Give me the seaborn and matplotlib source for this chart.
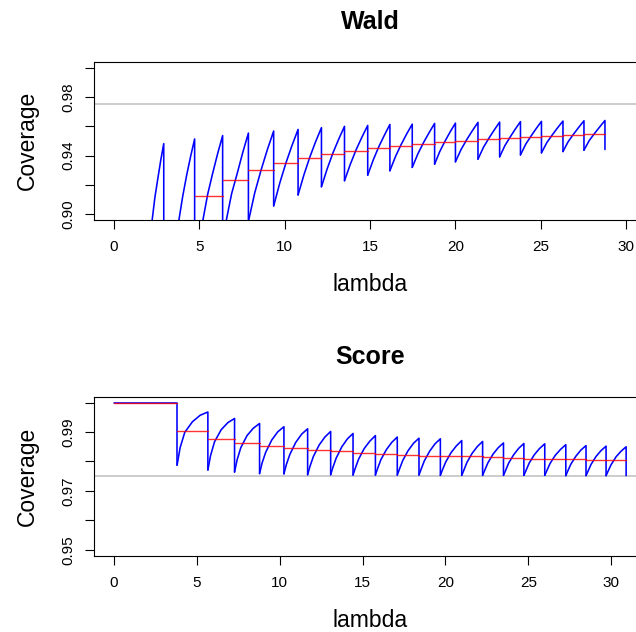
import matplotlib
matplotlib.use("Agg")
import matplotlib.pyplot as plt
import pandas as pd
import seaborn as sns

# ---------------- data ----------------
# Wald panel: each tooth starts at wald_start_x (value wald_low), rises through
# wald_mid (halfway) to wald_high at wald_end_x, then drops to wald_drop.
wald_start_x = [2.22, 3.785, 5.19, 6.56, 7.87, 9.35, 10.78, 12.15, 13.50, 14.86,
                16.16, 17.47, 18.78, 20.00, 21.32, 22.59, 23.81, 25.04, 26.30, 27.53]
wald_end_x = [2.91, 4.72, 6.36, 7.87, 9.35, 10.78, 12.15, 13.50, 14.86, 16.16,
              17.47, 18.78, 20.00, 21.32, 22.59, 23.81, 25.04, 26.30, 27.53, 28.76]
wald_low = [0.895, 0.895, 0.895, 0.895, 0.895, 0.9056, 0.9131, 0.9187, 0.9228, 0.9266,
            0.9296, 0.9319, 0.9341, 0.9357, 0.9375, 0.9391, 0.9404, 0.9418, 0.9427, 0.9436]
wald_q1 = [0.9115, 0.9120, 0.9135, 0.9140, 0.9145, 0.9212, 0.9268, 0.9310, 0.9340, 0.9370,
           0.9393, 0.9411, 0.9428, 0.9441, 0.9455, 0.9467, 0.9477, 0.9488, 0.9495, 0.9502]
wald_mid = [0.9244, 0.9266, 0.9278, 0.9278, 0.9300, 0.9348, 0.9388, 0.9418, 0.9439, 0.9460,
            0.9474, 0.9487, 0.9498, 0.9508, 0.9517, 0.9525, 0.9532, 0.9540, 0.9545, 0.9550]
wald_q3 = [0.9370, 0.9395, 0.9413, 0.9422, 0.9440, 0.9468, 0.9494, 0.9512, 0.9525, 0.9538,
           0.9547, 0.9555, 0.9562, 0.9569, 0.9574, 0.9580, 0.9584, 0.9589, 0.9592, 0.9595]
wald_high = [0.9481, 0.9513, 0.9536, 0.9553, 0.9567, 0.9578, 0.9590, 0.9599, 0.9605, 0.9612,
             0.9614, 0.9619, 0.9621, 0.9626, 0.9628, 0.9631, 0.9633, 0.9635, 0.9637, 0.9639]
wald_drop = [0.880, 0.880, 0.880, 0.880, 0.9056, 0.9131, 0.9187, 0.9228, 0.9266, 0.9296,
             0.9319, 0.9341, 0.9357, 0.9375, 0.9391, 0.9404, 0.9418, 0.9427, 0.9436, 0.9441]
wald_step_edges = [4.72, 6.36, 7.87, 9.35, 10.78, 12.15, 13.50, 14.86, 16.16, 17.47,
                   18.78, 20.00, 21.32, 22.59, 23.81, 25.04, 26.30, 27.53, 28.76]
wald_step_vals = [0.9126, 0.9235, 0.9302, 0.9348, 0.9384, 0.9411, 0.9434, 0.9452, 0.9468,
                  0.9481, 0.9493, 0.9502, 0.9511, 0.9519, 0.9529, 0.9533, 0.9540, 0.9544]

# Score panel
score_flat_x = [0.0, 3.80]
score_flat_y = [1.0, 1.0]
score_jumps = [3.80, 5.66, 7.27, 8.78, 10.25, 11.68, 13.07, 14.42, 15.77, 17.09, 18.40,
               19.69, 20.98, 22.24, 23.50, 24.73, 25.99, 27.26, 28.48, 29.69, 30.90]
score_low = [0.9787, 0.9771, 0.9764, 0.9759, 0.9758, 0.9755, 0.9755, 0.9754, 0.9754, 0.9754,
             0.9754, 0.9753, 0.9753, 0.9753, 0.9753, 0.9753, 0.9753, 0.9752, 0.9752, 0.9752]
score_p10 = [0.9847, 0.9820, 0.9805, 0.9794, 0.9789, 0.9783, 0.9780, 0.9777, 0.9776, 0.9774,
             0.9774, 0.9772, 0.9770, 0.9770, 0.9769, 0.9769, 0.9769, 0.9768, 0.9767, 0.9767]
score_p25 = [0.9899, 0.9867, 0.9847, 0.9831, 0.9824, 0.9817, 0.9812, 0.9808, 0.9806, 0.9803,
             0.9802, 0.9798, 0.9797, 0.9795, 0.9794, 0.9794, 0.9793, 0.9791, 0.9790, 0.9789]
score_p50 = [0.9935, 0.9908, 0.9888, 0.9873, 0.9865, 0.9856, 0.9850, 0.9844, 0.9840, 0.9837,
             0.9835, 0.9830, 0.9828, 0.9825, 0.9823, 0.9823, 0.9821, 0.9818, 0.9817, 0.9816]
score_p75 = [0.9957, 0.9932, 0.9913, 0.9901, 0.9893, 0.9883, 0.9877, 0.9869, 0.9865, 0.9862,
             0.9860, 0.9853, 0.9851, 0.9847, 0.9845, 0.9844, 0.9841, 0.9839, 0.9837, 0.9835]
score_high = [0.9968, 0.9946, 0.9929, 0.9918, 0.9911, 0.9902, 0.9895, 0.9888, 0.9883, 0.9879,
              0.9877, 0.9871, 0.9868, 0.9863, 0.9861, 0.9860, 0.9857, 0.9854, 0.9852, 0.9850]
score_last_drop = 0.9752
score_step_edges = [0.0] + score_jumps
score_step_vals = [1.0, 0.9903, 0.9878, 0.9862, 0.9852, 0.9846, 0.9838, 0.9834, 0.9829, 0.9826,
                   0.9822, 0.9820, 0.9819, 0.9817, 0.9814, 0.9813, 0.9810, 0.9808, 0.9807,
                   0.9806, 0.9805]

x_ticks = [0, 5, 10, 15, 20, 25, 30]
x_ticklabels = ["0", "5", "10", "15", "20", "25", "30"]
wald_yticks = [0.90, 0.92, 0.94, 0.96, 0.98, 1.00]
wald_yticklabels = ["0.90", "", "0.94", "", "0.98", ""]
score_yticks = [0.95, 0.96, 0.97, 0.98, 0.99, 1.00]
score_yticklabels = ["0.95", "", "0.97", "", "0.99", ""]
nominal = 0.975


def teeth_frame(x0, x1, fracs, vals, drops):
    rows = []
    for i in range(len(x0)):
        for f, v in zip(fracs, vals):
            rows.append((x0[i] + f * (x1[i] - x0[i]), v[i], i))
        rows.append((x1[i], drops[i], i))
    return pd.DataFrame(rows, columns=["x", "y", "unit"])


def steps_frame(edges, vals):
    rows = []
    for i, v in enumerate(vals):
        rows.append((edges[i], v, i))
        rows.append((edges[i + 1], v, i))
    return pd.DataFrame(rows, columns=["x", "y", "unit"])


wald_df = teeth_frame(wald_start_x, wald_end_x, [0, 0.25, 0.5, 0.75, 1],
                      [wald_low, wald_q1, wald_mid, wald_q3, wald_high], wald_drop)
wald_steps = steps_frame(wald_step_edges, wald_step_vals)

score_drops = score_low[1:] + [score_last_drop]
score_df = teeth_frame(score_jumps[:-1], score_jumps[1:], [0, 0.1, 0.25, 0.5, 0.75, 1],
                       [score_low, score_p10, score_p25, score_p50, score_p75, score_high],
                       score_drops)
flat_df = pd.DataFrame({"x": score_flat_x + [score_flat_x[-1]],
                        "y": score_flat_y + [score_low[0]],
                        "unit": [-1, -1, -1]})
score_df = pd.concat([flat_df, score_df], ignore_index=True)
score_steps = steps_frame(score_step_edges, score_step_vals)

# ---------------- drawing ----------------
sns.set_theme(style="white")
plt.rcParams["font.family"] = ["Liberation Sans", "DejaVu Sans"]
plt.rcParams["text.color"] = "black"
plt.rcParams["axes.labelcolor"] = "black"
plt.rcParams["xtick.color"] = "black"
plt.rcParams["ytick.color"] = "black"

W, H = 636, 632
fig = plt.figure(figsize=(W / 100, H / 100), dpi=100)
left_px, width_px = 93.6, 553.0
ax1 = fig.add_axes([left_px / W, 1 - 220.0 / H, width_px / W, 158.3 / H])
ax2 = fig.add_axes([left_px / W, 1 - 555.7 / H, width_px / W, 159.0 / H])

panels = [
    (ax1, wald_df, wald_steps, (-1.2, 31.2), (0.896, 1.004), wald_yticks, wald_yticklabels, "Wald", 22),
    (ax2, score_df, score_steps, (-1.236, 32.136), (0.948, 1.002), score_yticks, score_yticklabels, "Score", 357),
]

for ax, tdf, sdf, xl, yl, yt, ytl, title, title_y in panels:
    sns.lineplot(data=tdf, x="x", y="y", units="unit", estimator=None, sort=False,
                 color="#0000FF", linewidth=1.15, legend=False, ax=ax)
    sns.lineplot(data=sdf, x="x", y="y", units="unit", estimator=None, sort=False,
                 color="#FF0000", alpha=0.8, linewidth=1.0, legend=False, ax=ax)
    ax.axhline(nominal, color="#BEBEBE", linewidth=1.1, zorder=1)
    ax.set_xlim(*xl)
    ax.set_ylim(*yl)
    ax.set_xticks(x_ticks)
    ax.set_xticklabels(x_ticklabels)
    ax.set_yticks(yt)
    ax.set_yticklabels(ytl, rotation=90, va="center")
    ax.tick_params(axis="both", direction="out", length=6.7, width=0.8, color="black",
                   labelsize=11, labelcolor="black", bottom=True, left=True)
    ax.tick_params(axis="x", pad=8)
    ax.tick_params(axis="y", pad=6.5)
    for sp in ax.spines.values():
        sp.set_visible(True)
        sp.set_color("black")
        sp.set_linewidth(0.8)
    ax.set_xlabel("lambda", fontsize=16.5, va="center", color="black")
    ax.set_ylabel("Coverage", fontsize=16.5, va="center", color="black")
    ax.xaxis.set_label_coords(0.5, -(65.0 / 158.5))
    ax.yaxis.set_label_coords((27.0 - left_px) / width_px, 0.5)
    fig.text((left_px + width_px / 2) / W, 1 - title_y / H, title, ha="center", va="center",
             fontsize=18, fontweight="bold", color="black")

fig.savefig("out.png", dpi=100)
